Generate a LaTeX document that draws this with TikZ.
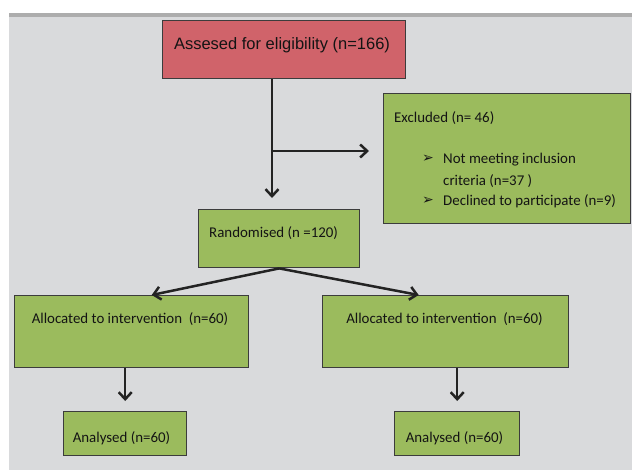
\documentclass[tikz,border=0pt]{standalone}
\usepackage{fontspec}
\setmainfont{Carlito}
\newfontfamily\arialfont{Liberation Sans}
\newfontfamily\dejavufont{DejaVu Sans}
\usetikzlibrary{arrows.meta,calc}
\definecolor{bgc}{HTML}{D9DADC}
\definecolor{topline}{HTML}{ADADAD}
\definecolor{boxgreen}{HTML}{9BBB5D}
\definecolor{boxred}{HTML}{D0636A}
\definecolor{edgec}{HTML}{3C3C3C}
\definecolor{arrc}{HTML}{232323}
\tikzset{
  box/.style={draw=edgec, line width=1.4pt, fill=boxgreen, rectangle, inner sep=0pt, anchor=north west},
  redbox/.style={box, fill=boxred},
  txt/.style={inner sep=0pt, font=\fontsize{14.9}{17}\selectfont, text=black!92},
  conn/.style={draw=arrc, line width=2.5pt, -{Straight Barb[length=7pt,width=13pt]}},
  plainconn/.style={draw=arrc, line width=2.5pt},
  bullet/.style={txt, anchor=base, font=\dejavufont\fontsize{14}{16}\selectfont},
}
\begin{document}
\begin{tikzpicture}[x=1pt,y=-1pt]
\fill[white] (0,0) rectangle (632,471);
\fill[bgc] (9,13) rectangle (632,470);
\fill[topline] (9,13) rectangle (632,17);
\useasboundingbox (0,0) rectangle (632,471);

% boxes
\node[redbox, minimum width=243pt, minimum height=58pt] (red) at (162,20) {};
\node[box, minimum width=247pt, minimum height=130pt] (excl) at (383,93) {};
\node[box, minimum width=161pt, minimum height=58pt] (rand) at (198,209) {};
\node[box, minimum width=234pt, minimum height=72pt] (allocL) at (14,295) {};
\node[box, minimum width=246pt, minimum height=72pt] (allocR) at (322,295) {};
\node[box, minimum width=123pt, minimum height=44pt] (anL) at (63,411) {};
\node[box, minimum width=125pt, minimum height=44pt] (anR) at (394,411) {};

% texts
\node[txt, anchor=base, font=\arialfont\fontsize{16.5}{19}\selectfont] (tred) at (282,49) {Assesed for eligibility (n=166)};
\node[txt, anchor=base west] (texcl) at (394,122) {Excluded (n= 46)};
\node[txt, anchor=base west] (tb1) at (443,163) {Not meeting inclusion};
\node[txt, anchor=base west] (tb1b) at (443,185) {criteria (n=37 )};
\node[txt, anchor=base west] (tb2) at (443,205) {Declined to participate (n=9)};
\node[bullet] (bul1) at (428,162) {➢};
\node[bullet] (bul2) at (428,204) {➢};
\node[txt, anchor=base west] (trand) at (209,237) {Randomised (n =120)};
\node[txt, anchor=base] (tallocL) at (130,323) {Allocated to intervention\ \ (n=60)};
\node[txt, anchor=base] (tallocR) at (444.5,323) {Allocated to intervention\ \ (n=60)};
\node[txt, anchor=base] (tanL) at (121.5,442) {Analysed (n=60)};
\node[txt, anchor=base] (tanR) at (454.5,442) {Analysed (n=60)};

% connectors
\coordinate (split) at (272,151);
\draw[plainconn] (red.south -| split) -- (split);
\draw[conn, shorten >=11pt] (split) -- (split |- rand.north);
\draw[conn, shorten >=14pt] (split) -- (split -| excl.west);
\draw[conn] (rand.south) -- ($(allocL.north)+(20,0)$);
\draw[conn] (rand.south) -- ($(allocR.north)+(-27,0)$);
\draw[conn, shorten >=10pt] (allocL.south -| anL.north) -- (anL.north);
\draw[conn, shorten >=10pt] (allocR.south -| anR.north) -- (anR.north);
\end{tikzpicture}
\end{document}
